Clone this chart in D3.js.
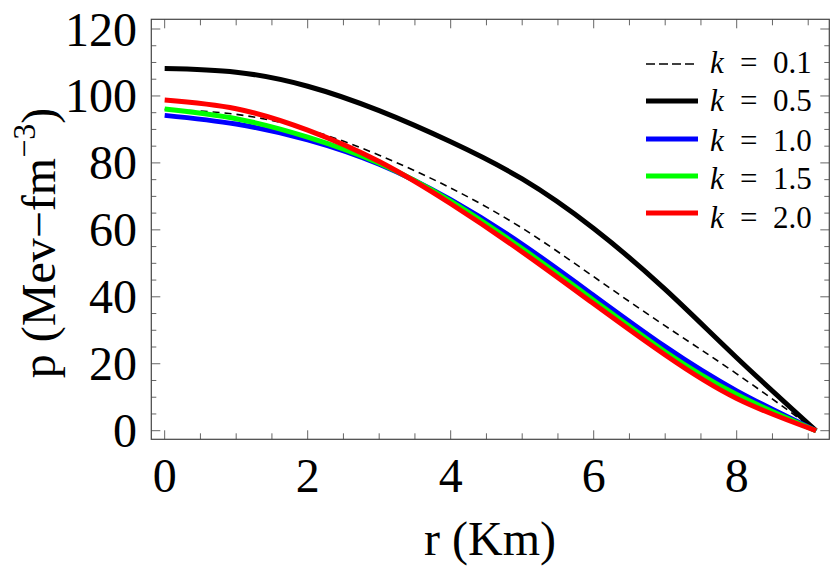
<!DOCTYPE html>
<html>
<head>
<meta charset="utf-8">
<script src="https://cdn.jsdelivr.net/npm/d3@7"></script>
<style>
  body { margin: 0; background: #fff; }
  svg text { font-family: "Liberation Serif", "Times New Roman", Times, serif; fill: #000; }
</style>
</head>
<body>
<svg id="chart" width="830" height="566"></svg>
<script>
// radius (km) and pressure values
const rValues = [0, 1, 2, 3, 4, 5, 6, 7, 8, 9.11];
const pK01 = [96.0, 94.5, 90.0, 82.3, 72.5, 60.5, 46.0, 31.3, 17.0, 0];
const pK05 = [108.2, 107.1, 102.9, 95.6, 86.3, 75.2, 60.4, 42.2, 21.8, 0];
const pK10 = [94.2, 91.6, 86.9, 79.6, 69.0, 55.7, 40.4, 25.1, 11.9, 0];
const pK15 = [96.1, 93.2, 87.7, 79.9, 68.6, 54.4, 39.0, 23.6, 10.8, 0];
const pK20 = [98.8, 96.2, 89.8, 80.4, 67.8, 53.4, 37.9, 22.6, 9.6, 0];

const kLabels = ["0.1", "0.5", "1.0", "1.5", "2.0"];
const xTickLabels = [0, 2, 4, 6, 8];
const yTickLabels = [0, 20, 40, 60, 80, 100, 120];

// series styling (order = draw order)
const series = [
  { k: kLabels[0], values: pK01, color: "#000", width: 1.6, dash: "7,5" },
  { k: kLabels[1], values: pK05, color: "#000", width: 5, dash: null },
  { k: kLabels[2], values: pK10, color: "#0000ff", width: 5, dash: null },
  { k: kLabels[3], values: pK15, color: "#00ff00", width: 5, dash: null },
  { k: kLabels[4], values: pK20, color: "#ff0000", width: 5, dash: null }
];

const svg = d3.select("#chart");
const plotLeft = 151.3, plotRight = 829.3, plotTop = 19.3, plotBottom = 439.3;

const x = d3.scaleLinear().domain([-0.187, 9.295]).range([plotLeft, plotRight]);
const y = d3.scaleLinear().domain([-2.57, 122.9]).range([plotBottom, plotTop]);

// ticks on all four sides, pointing inward
const xMinor = d3.range(0, 9.3, 0.5);
const yMinor = d3.range(0, 121, 5);
const ticks = svg.append("g").attr("stroke", "#666").attr("stroke-width", 1);

xMinor.forEach(v => {
  const len = v % 2 === 0 ? 9 : 6;
  ticks.append("line").attr("x1", x(v)).attr("x2", x(v)).attr("y1", plotBottom).attr("y2", plotBottom - len);
  ticks.append("line").attr("x1", x(v)).attr("x2", x(v)).attr("y1", plotTop).attr("y2", plotTop + len);
});
yMinor.forEach(v => {
  const len = v % 20 === 0 ? 9 : 5;
  ticks.append("line").attr("y1", y(v)).attr("y2", y(v)).attr("x1", plotLeft).attr("x2", plotLeft + len);
  ticks.append("line").attr("y1", y(v)).attr("y2", y(v)).attr("x1", plotRight).attr("x2", plotRight - len);
});

// frame
svg.append("rect")
  .attr("x", plotLeft).attr("y", plotTop)
  .attr("width", plotRight - plotLeft).attr("height", plotBottom - plotTop)
  .attr("fill", "none").attr("stroke", "#444").attr("stroke-width", 1.2);

// tick labels
svg.append("g").selectAll("text").data(xTickLabels).join("text")
  .attr("x", d => x(d)).attr("y", 492)
  .attr("text-anchor", "middle").attr("font-size", 48)
  .text(d => d);

svg.append("g").selectAll("text").data(yTickLabels).join("text")
  .attr("x", 137).attr("y", d => y(d) + 16.5)
  .attr("text-anchor", "end").attr("font-size", 48)
  .text(d => d);

// axis titles
svg.append("text")
  .attr("x", 490).attr("y", 555)
  .attr("text-anchor", "middle").attr("font-size", 48)
  .text("r (Km)");

const yTitle = svg.append("text")
  .attr("transform", "translate(55,243) rotate(-90)")
  .attr("text-anchor", "middle").attr("font-size", 48);
yTitle.append("tspan").text("p (Mev\u2212fm");
yTitle.append("tspan").attr("font-size", 32).attr("dy", -20).text("\u22123");
yTitle.append("tspan").attr("dy", 20).text(")");

// curves
const line = d3.line()
  .x((d, i) => x(rValues[i]))
  .y(d => y(d))
  .curve(d3.curveNatural);

svg.append("g").selectAll("path").data(series).join("path")
  .attr("d", d => line(d.values))
  .attr("fill", "none")
  .attr("stroke", d => d.color)
  .attr("stroke-width", d => d.width)
  .attr("stroke-dasharray", d => d.dash);

// legend
const legendLineY = [64, 101, 139, 176, 213];
const legendTextY = [73, 111, 151, 189, 228];
const legend = svg.append("g");
series.forEach((s, i) => {
  legend.append("line")
    .attr("x1", 646).attr("x2", 698)
    .attr("y1", legendLineY[i]).attr("y2", legendLineY[i])
    .attr("stroke", s.color).attr("stroke-width", s.width)
    .attr("stroke-dasharray", s.dash ? "9,4" : null);
  legend.append("text").attr("x", 710).attr("y", legendTextY[i])
    .attr("font-size", 31).attr("font-style", "italic").text("k");
  legend.append("text").attr("x", 740).attr("y", legendTextY[i])
    .attr("font-size", 31).text("=");
  legend.append("text").attr("x", 773).attr("y", legendTextY[i])
    .attr("font-size", 31).text(s.k);
});
</script>
</body>
</html>
